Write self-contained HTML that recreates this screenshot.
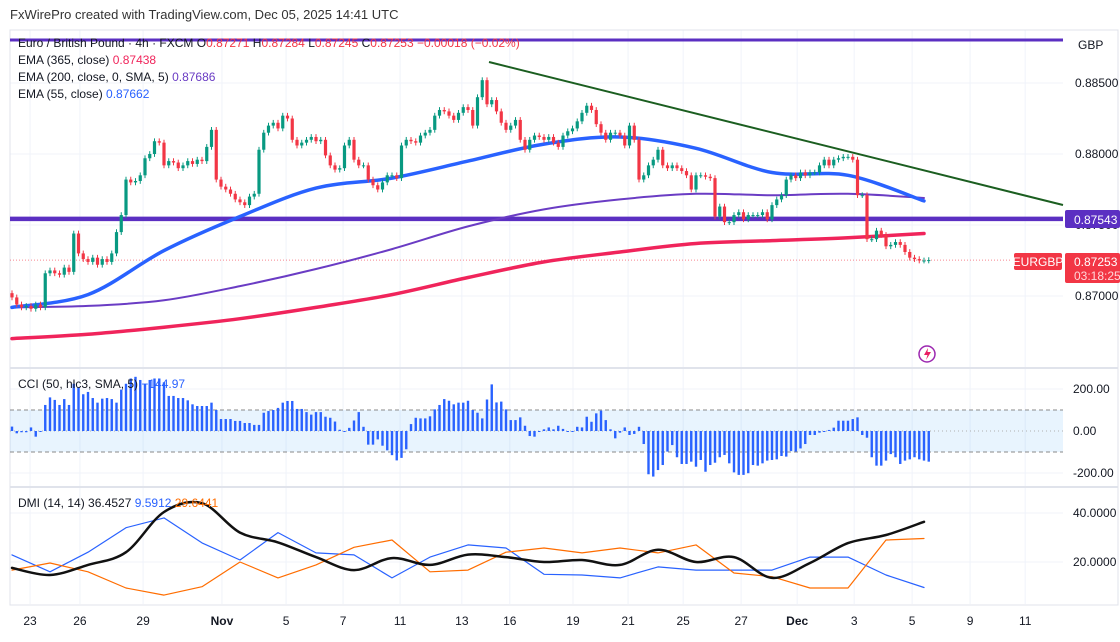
<!DOCTYPE html>
<html><head><meta charset="utf-8">
<style>
body{margin:0;background:#fff;}
svg{display:block;font-family:"Liberation Sans",Arial,sans-serif;}
</style></head>
<body>
<svg id="c" width="1120" height="642" viewBox="0 0 1120 642">
<rect x="0" y="0" width="1120" height="642" fill="#fff"/>
<text x="10" y="19" font-size="13" fill="#333">FxWirePro created with TradingView.com, Dec 05, 2025 14:41 UTC</text>
<g id="grid"></g>
<g id="main"></g>
<g id="cci"></g>
<g id="dmi"></g>
<g id="axes"></g>
</svg>
<script>
const closes=[0.8699,0.8694,0.8692,0.8693,0.8691,0.8694,0.8692,0.8716,0.8718,0.8716,
0.8715,0.8720,0.8717,0.8744,0.8730,0.8726,0.8724,0.8727,0.8722,0.8726,
0.8724,0.8730,0.8745,0.8757,0.8782,0.8780,0.8781,0.8785,0.8797,0.8800,
0.8809,0.8808,0.8792,0.8795,0.8794,0.8790,0.8792,0.8795,0.8793,0.8796,
0.8795,0.8805,0.8817,0.8782,0.8777,0.8775,0.8772,0.8768,0.8766,0.8764,
0.8770,0.8772,0.8803,0.8815,0.8820,0.8822,0.8818,0.8827,0.8825,0.8810,
0.8806,0.8808,0.8810,0.8812,0.8809,0.8810,0.8799,0.8792,0.8789,0.8790,
0.8806,0.8810,0.8796,0.8792,0.8792,0.8782,0.8778,0.8775,0.8780,0.8785,
0.8785,0.8783,0.8806,0.8810,0.8809,0.8808,0.8813,0.8815,0.8817,0.8827,
0.8831,0.8830,0.8827,0.8824,0.8829,0.8833,0.8831,0.8820,0.8840,0.8852,
0.8835,0.8838,0.8830,0.8822,0.8817,0.8820,0.8824,0.8810,0.8803,0.8810,
0.8813,0.8812,0.8810,0.8812,0.8808,0.8805,0.8813,0.8816,0.8818,0.8823,
0.8829,0.8834,0.8831,0.8821,0.8815,0.8810,0.8815,0.8815,0.8813,0.8806,
0.8820,0.8810,0.8782,0.8785,0.8792,0.8796,0.8803,0.8792,0.8790,0.8792,
0.8790,0.8788,0.8785,0.8775,0.8785,0.8785,0.8784,0.8783,0.8756,0.8763,
0.8752,0.8752,0.8757,0.8759,0.8754,0.8757,0.8757,0.8757,0.8759,0.8754,
0.8764,0.8768,0.8771,0.8782,0.8785,0.8783,0.8787,0.8785,0.8787,0.8787,
0.8792,0.8796,0.8792,0.8796,0.8797,0.8798,0.8798,0.8796,0.8771,0.8771,
0.8740,0.8740,0.8746,0.8743,0.8735,0.8736,0.8738,0.8736,0.8731,0.8727,
0.8726,0.8725,0.8725,0.87253];
const ema365=[0.8670,0.8673,0.8678,0.8684,0.8692,0.8701,0.8713,0.8724,0.8731,0.8737,0.8739,0.8741,0.8744];
const ema200=[0.8692,0.8693,0.8697,0.8707,0.8719,0.8733,0.8749,0.8761,0.8768,0.8772,0.8771,0.8772,0.8769];
const ema55=[0.8692,0.8701,0.8732,0.8756,0.8776,0.8783,0.8795,0.8807,0.8812,0.8804,0.8787,0.8785,0.8767];
const cciVals=[21,-11,-6,-6,17,-27,-3,124,160,148,124,152,124,225,208,175,186,157,135,154,157,152,135,197,225,250,258,243,225,243,250,250,232,167,167,157,157,146,127,119,119,119,135,100,57,57,57,48,48,38,38,29,29,87,95,100,110,135,143,143,105,105,90,78,90,90,68,63,45,6,0,15,50,90,20,-65,-65,-40,-70,-92,-115,-140,-128,-87,33,63,60,60,70,103,124,152,
144,127,135,135,144,100,87,60,150,222,136,140,103,52,52,65,25,-24,-27,0,8,17,8,25,10,-3,0,20,17,68,44,84,97,52,8,-35,-8,17,-19,-14,20,-62,-206,-217,-186,-162,-98,-67,-125,-157,-157,-146,-170,-138,-194,-162,-151,-125,-114,-154,-197,-209,-209,-201,-162,-165,-154,-141,-138,-135,-119,-122,-95,-98,-83,-62,-19,-19,-8,0,5,16,49,49,49,57,65,-19,-32,-125,-165,-165,-141,-110,-125,-157,-141,-135,-125,-135,-141,-146];
const adx=[17.6,14.7,18.8,24,40.4,44,32,28,22,16.7,21.6,18.8,23,22,20,20.8,18.8,25,20,22,13.5,19.6,27.7,31,36.4];
const plusDI=[22.9,16,24,34,38,27.8,20.8,32,23.7,22.9,13.5,22,27,25.7,15,14.7,13.5,18,16.7,16.7,16.7,22,22,14.7,9.6];
const minusDI=[16.7,19.6,16,9.4,6.5,9.9,20,13.5,18.8,26,29,16,16.7,24,25.7,23.7,25.7,23.7,27,15.5,14,9.4,9.4,29,29.6];
const priceTicks=[0.885,0.880,0.875,0.870];
const cciTicks=[200,0,-200];
const dmiTicks=[40,20];
const dateLabels=["23","26","29","Nov","5","7","11","13","16","19","21","25","27","Dec","3","5","9","11"];
const dateBars=[3.8,14.3,27.6,44.2,57.7,69.7,81.7,94.7,104.8,118.1,129.7,141.3,153.5,165.3,177.3,189.5,201.7,213.3];

(function(){
const NS="http://www.w3.org/2000/svg";
function mk(tag,attrs,parent){const e=document.createElementNS(NS,tag);for(const k in attrs)e.setAttribute(k,attrs[k]);parent.appendChild(e);return e;}
const X0=12,STEP=4.75,PLOT_R=1063;
const xb=i=>X0+i*STEP;
const yp=p=>154+(0.88-p)*14200;
const yc=v=>431-v*0.21;
const yd=v=>562-(v-20)*2.45;
const G=document.getElementById('grid'),M=document.getElementById('main'),C=document.getElementById('cci'),D=document.getElementById('dmi'),A=document.getElementById('axes');

dateBars.forEach(b=>{const l=mk('line',{x1:xb(b),x2:xb(b),y1:30,y2:604,stroke:'#f0f3fa','stroke-width':1},G);

});
priceTicks.forEach(p=>{const l=mk('line',{x1:10,x2:PLOT_R,y1:yp(p),y2:yp(p),stroke:'#f0f3fa'},G);

});
[389,473].forEach(y=>mk('line',{x1:10,x2:PLOT_R,y1:y,y2:y,stroke:'#f0f3fa'},G));
dmiTicks.forEach(v=>mk('line',{x1:10,x2:PLOT_R,y1:yd(v),y2:yd(v),stroke:'#f0f3fa'},G));
mk('rect',{x:10,y:30,width:1108,height:575,fill:'none',stroke:'#e0e3eb'},G);
mk('line',{x1:10,x2:1118,y1:368,y2:368,stroke:'#e0e3eb','stroke-width':2},G);
mk('line',{x1:10,x2:1118,y1:487,y2:487,stroke:'#e0e3eb','stroke-width':2},G);

const topLine=mk('line',{x1:10,x2:PLOT_R,y1:40,y2:40,stroke:'#5b2fc2','stroke-width':3},M);


const supLine=mk('line',{x1:10,x2:PLOT_R,y1:yp(0.87543),y2:yp(0.87543),stroke:'#5b2fc2','stroke-width':4.5},M);


const curLine=mk('line',{x1:10,x2:1012,y1:yp(0.87253),y2:yp(0.87253),stroke:'#f23645','stroke-width':1,'stroke-dasharray':'1 2',opacity:0.6},M);



function poly(arr,yf,n,parent,color,w,name,smooth){
  const step=(n-1)/(arr.length-1);
  const P=arr.map((v,k)=>[xb(k*step),yf(v)]);
  let d='M'+P[0][0].toFixed(1)+' '+P[0][1].toFixed(1);
  for(let k=0;k<P.length-1;k++){
    if(!smooth){d+=' L'+P[k+1][0].toFixed(1)+' '+P[k+1][1].toFixed(1);continue;}
    const p0=P[Math.max(0,k-1)],p1=P[k],p2=P[k+1],p3=P[Math.min(P.length-1,k+2)];
    const c1=[p1[0]+(p2[0]-p0[0])/6,p1[1]+(p2[1]-p0[1])/6],c2=[p2[0]-(p3[0]-p1[0])/6,p2[1]-(p3[1]-p1[1])/6];
    d+=' C'+c1[0].toFixed(1)+' '+c1[1].toFixed(1)+' '+c2[0].toFixed(1)+' '+c2[1].toFixed(1)+' '+p2[0].toFixed(1)+' '+p2[1].toFixed(1);
  }
  const e=mk('path',{d:d,fill:'none',stroke:color,'stroke-width':w,'stroke-linejoin':'round','stroke-linecap':'round'},parent);
  
  
}
const N=closes.length;
poly(ema365,yp,193,M,'#f0245b',3.5,'ema-365-line',true);
poly(ema200,yp,193,M,'#6a3cc4',2,'ema-200-line',true);
poly(ema55,yp,193,M,'#2962ff',3.5,'ema-55-line',true);

for(let i=0;i<N;i++){
  const c=closes[i],o=i?closes[i-1]:c+0.0003;
  const up=c>=o,col=up?'#089981':'#f23645';
  const hi=Math.max(o,c)+0.0002,lo=Math.min(o,c)-0.0002;
  const x=xb(i);
  const g=mk('g',{},M);
  
  
  mk('line',{x1:x,x2:x,y1:yp(hi),y2:yp(lo),stroke:col,'stroke-width':1},g);
  const yt=yp(Math.max(o,c)),h=Math.max(1,yp(Math.min(o,c))-yt);
  mk('rect',{x:x-1.6,y:yt,width:3.2,height:h,fill:col},g);
}
const trend=mk('line',{x1:489,y1:62,x2:PLOT_R,y2:205,stroke:'#1b5e20','stroke-width':2},M);



const icon=mk('g',{},M);


mk('circle',{cx:927,cy:354,r:8,fill:'#fff',stroke:'#9c27b0','stroke-width':1.5},icon);
mk('path',{d:'M928 348 L924 355 L927.5 355 L926 360 L931 352 L927.5 352 Z',fill:'#e91e63'},icon);

mk('rect',{x:10,y:yc(100),width:PLOT_R-10,height:yc(-100)-yc(100),fill:'#2196f3',opacity:0.1},C);
[100,-100].forEach(v=>mk('line',{x1:10,x2:PLOT_R,y1:yc(v),y2:yc(v),stroke:'#8a8a8a','stroke-dasharray':'4 3'},C));
mk('line',{x1:10,x2:PLOT_R,y1:yc(0),y2:yc(0),stroke:'#b0b0b0','stroke-dasharray':'1 3'},C);
cciVals.forEach((v,i)=>{
  const y0=yc(0),y1=yc(v);
  const r=mk('rect',{x:xb(i)-1.2,y:Math.min(y0,y1),width:2.4,height:Math.max(1,Math.abs(y1-y0)),fill:'#2962ff'},C);
  
  
});

poly(plusDI,yd,193,D,'#2962ff',1.2,'plus-di-line',false);
poly(minusDI,yd,193,D,'#ff6d00',1.2,'minus-di-line',false);
poly(adx,yd,193,D,'#111',2.5,'adx-line',true);

function txt(x,y,s,size,col,name,anchor,weight){
  const t=mk('text',{x:x,y:y,'font-size':size,fill:col,'text-anchor':anchor||'start','font-weight':weight||'normal'},A);
  t.textContent=s;
  
  
  return t;
}
txt(1078,49,'GBP',12,'#131722','currency-label');
priceTicks.forEach(p=>txt(1075,yp(p)+4,p.toFixed(5),12,'#131722','price-tick'));
cciTicks.forEach(v=>txt(1073,yc(v)+4,v.toFixed(2),12,'#131722','cci-tick'));
dmiTicks.forEach(v=>txt(1073,yd(v)+4,v.toFixed(4),12,'#131722','dmi-tick'));
dateLabels.forEach((s,k)=>txt(xb(dateBars[k]),625,s,12,'#131722','date-label','middle',(s==='Nov'||s==='Dec')?'bold':'normal'));

const lvl=mk('rect',{x:1065,y:210,width:55,height:18,fill:'#5b2fc2',rx:2},A);


txt(1074,224,'0.87543',12,'#fff','level-price-text');
const sym=mk('rect',{x:1014,y:253,width:48,height:17,fill:'#f23645',rx:2},A);


txt(1038,266,'EURGBP',12,'#fff','symbol-tag-text','middle');
const last=mk('rect',{x:1065,y:253,width:55,height:30,fill:'#f23645',rx:2},A);


txt(1074,266,'0.87253',12,'#fff','last-price-text');
txt(1074,280,'03:18:25',12,'#ffd6d9','countdown-text');

function leg(y,parts,name){
  const t=mk('text',{x:18,y:y,'font-size':12},A);
  
  
  parts.forEach(p=>{const s=mk('tspan',{fill:p[1]},t);s.textContent=p[0];});
}
leg(47,[['Euro / British Pound · 4h · FXCM  ','#131722'],['O','#131722'],['0.87271  ','#f23645'],['H','#131722'],['0.87284  ','#f23645'],['L','#131722'],['0.87245  ','#f23645'],['C','#131722'],['0.87253  −0.00018 (−0.02%)','#f23645']],'ohlc-legend');
leg(64,[['EMA (365, close)  ','#131722'],['0.87438','#f0245b']],'ema365-legend');
leg(81,[['EMA (200, close, 0, SMA, 5)  ','#131722'],['0.87686','#6a3cc4']],'ema200-legend');
leg(98,[['EMA (55, close)  ','#131722'],['0.87662','#2962ff']],'ema55-legend');
leg(388,[['CCI (50, hlc3, SMA, 5)  ','#131722'],['−144.97','#2962ff']],'cci-legend');
leg(507,[['DMI (14, 14)  ','#131722'],['36.4527  ','#131722'],['9.5912  ','#2962ff'],['29.6441','#ff6d00']],'dmi-legend');
})();
</script>
</body></html>
